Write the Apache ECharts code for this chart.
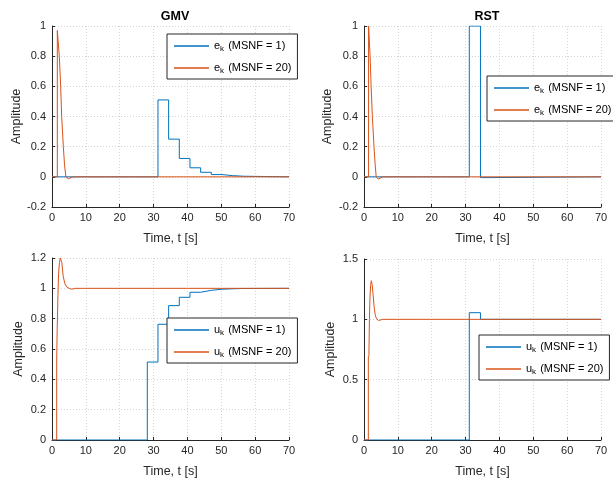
<!DOCTYPE html>
<html><head><meta charset="utf-8">
<script src="https://cdn.jsdelivr.net/npm/echarts@6/dist/echarts.min.js"></script>
<style>html,body{margin:0;padding:0;background:#fff}#c{width:613px;height:483px}</style>
</head><body><div id="c"></div>
<script>
// ---------- data ----------
const titles = ['GMV', 'RST'];
const xTickInterval = 10;
// GMV, error e_k, MSNF = 1 (zero-order hold samples)
const gmvE1T = [0, 31.3, 34.45, 37.6, 40.75, 43.9, 47.05, 50.2, 53.35, 56.5, 70];
const gmvE1V = [0, 0.51, 0.25, 0.122, 0.06, 0.03, 0.015, 0.008, 0.004, 0, 0];
// GMV, error e_k, MSNF = 20
const gmvE20T = [0, 1.57, 1.57, 1.7, 2.16, 2.56, 2.86, 3.35, 3.7, 4.1, 4.5, 4.8, 5.3, 6.0, 7.0, 70];
const gmvE20V = [0, 0, 0.97, 0.96, 0.8, 0.6, 0.4, 0.2, 0.08, 0, -0.01, -0.013, -0.008, -0.002, 0, 0];
// RST, error e_k, MSNF = 1
const rstE1T = [0, 31.1, 34.4, 37.5, 70];
const rstE1V = [0, 1, -0.005, 0, 0];
// RST, error e_k, MSNF = 20
const rstE20T = [0, 1.35, 1.35, 1.5, 1.8, 2.1, 2.47, 2.95, 3.3, 3.6, 3.9, 4.2, 4.7, 5.5, 70];
const rstE20V = [0, 0, 1.0, 1.0, 0.8, 0.6, 0.4, 0.2, 0.08, 0, -0.012, -0.015, -0.01, 0, 0];
// GMV, control u_k, MSNF = 1
const gmvU1T = [0, 28.15, 31.3, 34.45, 37.6, 40.75, 43.9, 47.05, 50.2, 53.35, 56.5, 70];
const gmvU1V = [0, 0.514, 0.763, 0.886, 0.941, 0.974, 0.987, 0.994, 0.997, 0.999, 1, 1];
// GMV, control u_k, MSNF = 20
const gmvU20T = [0, 1.38, 1.38, 1.55, 1.75, 1.95, 2.2, 2.45, 2.65, 2.9, 3.3, 3.8, 4.3, 4.8, 5.5, 6.2, 7.0, 70];
const gmvU20V = [0, 0, 0.52, 0.75, 0.95, 1.1, 1.17, 1.2, 1.2, 1.17, 1.08, 1.03, 1.01, 0.997, 0.995, 0.996, 1.0, 1.0];
// RST, control u_k, MSNF = 1
const rstU1T = [0, 31.1, 34.4, 70];
const rstU1V = [0, 1.055, 1, 1];
// RST, control u_k, MSNF = 20
const rstU20T = [0, 1.28, 1.28, 1.45, 1.6, 1.75, 1.95, 2.15, 2.4, 2.7, 3.0, 3.3, 3.6, 3.9, 4.3, 4.8, 5.5, 70];
const rstU20V = [0, 0, 0.68, 0.7, 1.0, 1.17, 1.28, 1.32, 1.29, 1.2, 1.1, 1.04, 1.01, 0.995, 0.99, 0.993, 1.0, 1.0];
// axis ranges
const yRanges = [
  {min: -0.2, max: 1, interval: 0.2},
  {min: -0.2, max: 1, interval: 0.2},
  {min: 0, max: 1.2, interval: 0.2},
  {min: 0, max: 1.5, interval: 0.5}
];
const legendLabels = {
  e1: ['e', 'k', ' (MSNF = 1)'], e20: ['e', 'k', ' (MSNF = 20)'],
  u1: ['u', 'k', ' (MSNF = 1)'], u20: ['u', 'k', ' (MSNF = 20)']
};

// ---------- chart ----------
const FONT = 'Liberation Sans, Arial, Helvetica, sans-serif';
const AX = '#262626';
const BLUE = '#0072BD', ORANGE = '#D95319';
const zip = (t, v) => t.map((x, i) => [x, v[i]]);

const grids = [
  {left: 52, top: 26, width: 237, height: 181},
  {left: 364, top: 26, width: 237, height: 181},
  {left: 52, top: 258, width: 237, height: 182},
  {left: 364, top: 259, width: 237, height: 181}
];
const yNameGaps = [27, 30, 27, 27];

const xAxes = grids.map((g, i) => ({
  type: 'value', gridIndex: i, min: 0, max: 70, interval: xTickInterval,
  name: 'Time, t [s]', nameLocation: 'middle', nameGap: 25,
  nameTextStyle: {fontFamily: FONT, fontSize: 12.5, color: AX},
  axisLine: {show: true, onZero: false, lineStyle: {color: AX, width: 1}},
  axisTick: {show: true, inside: true, length: 3, lineStyle: {color: AX}},
  axisLabel: {fontFamily: FONT, fontSize: 11, color: AX, margin: 5},
  splitLine: {show: true, lineStyle: {color: '#d4d4d4', type: [1, 2], width: 1}}
}));
const yAxes = grids.map((g, i) => ({
  type: 'value', gridIndex: i, min: yRanges[i].min, max: yRanges[i].max, interval: yRanges[i].interval,
  name: 'Amplitude', nameLocation: 'middle', nameGap: yNameGaps[i], nameRotate: 90,
  nameTextStyle: {fontFamily: FONT, fontSize: 12.5, color: AX},
  axisLine: {show: true, onZero: false, lineStyle: {color: AX, width: 1}},
  axisTick: {show: true, inside: true, length: 3, lineStyle: {color: AX}},
  axisLabel: {fontFamily: FONT, fontSize: 11, color: AX, margin: 6},
  splitLine: {show: true, lineStyle: {color: '#d4d4d4', type: [1, 2], width: 1}}
}));

function line(name, idx, t, v, color, step) {
  return {
    name, type: 'line', xAxisIndex: idx, yAxisIndex: idx, data: zip(t, v),
    step: step ? 'end' : false, symbol: 'none', showSymbol: false, animation: false,
    lineStyle: {color, width: 1}, itemStyle: {color}, clip: true
  };
}
const series = [
  line('g_e1', 0, gmvE1T, gmvE1V, BLUE, true),
  line('g_e20', 0, gmvE20T, gmvE20V, ORANGE, false),
  line('r_e1', 1, rstE1T, rstE1V, BLUE, true),
  line('r_e20', 1, rstE20T, rstE20V, ORANGE, false),
  line('g_u1', 2, gmvU1T, gmvU1V, BLUE, true),
  line('g_u20', 2, gmvU20T, gmvU20V, ORANGE, false),
  line('r_u1', 3, rstU1T, rstU1V, BLUE, true),
  line('r_u20', 3, rstU20T, rstU20V, ORANGE, false)
];

function fmt(name) {
  const key = name.split('_')[1];
  const p = legendLabels[key];
  return '{n|' + p[0] + '}{s|' + p[1] + '}{n|' + p[2] + '}';
}
function legend(names, left, top) {
  return {
    data: names, left, top, orient: 'vertical',
    backgroundColor: '#fff', borderColor: AX, borderWidth: 1, borderRadius: 0,
    padding: [5, 6, 4, 7], itemGap: 8, itemWidth: 35, itemHeight: 1.5, icon: 'rect',
    selectedMode: false, formatter: fmt,
    textStyle: {
      fontFamily: FONT, fontSize: 11, color: '#000',
      rich: {
        n: {fontFamily: FONT, fontSize: 11, color: '#000', lineHeight: 14},
        s: {fontFamily: FONT, fontSize: 8, color: '#000', lineHeight: 14, padding: [6, 1, 0, 0]}
      }
    }
  };
}

const option = {
  animation: false,
  backgroundColor: '#fff',
  title: [
    {text: titles[0], left: 170, top: 5, textAlign: 'center', textStyle: {fontFamily: FONT, fontSize: 12.5, fontWeight: 'bold', color: '#000'}},
    {text: titles[1], left: 482, top: 5, textAlign: 'center', textStyle: {fontFamily: FONT, fontSize: 12.5, fontWeight: 'bold', color: '#000'}}
  ],
  grid: grids,
  xAxis: xAxes,
  yAxis: yAxes,
  legend: [
    legend(['g_e1', 'g_e20'], 167, 34),
    legend(['r_e1', 'r_e20'], 487, 76),
    legend(['g_u1', 'g_u20'], 167, 318),
    legend(['r_u1', 'r_u20'], 479, 335)
  ],
  series
};
const chart = echarts.init(document.getElementById('c'), null, {renderer: 'canvas'});
chart.setOption(option);
</script>
</body></html>
